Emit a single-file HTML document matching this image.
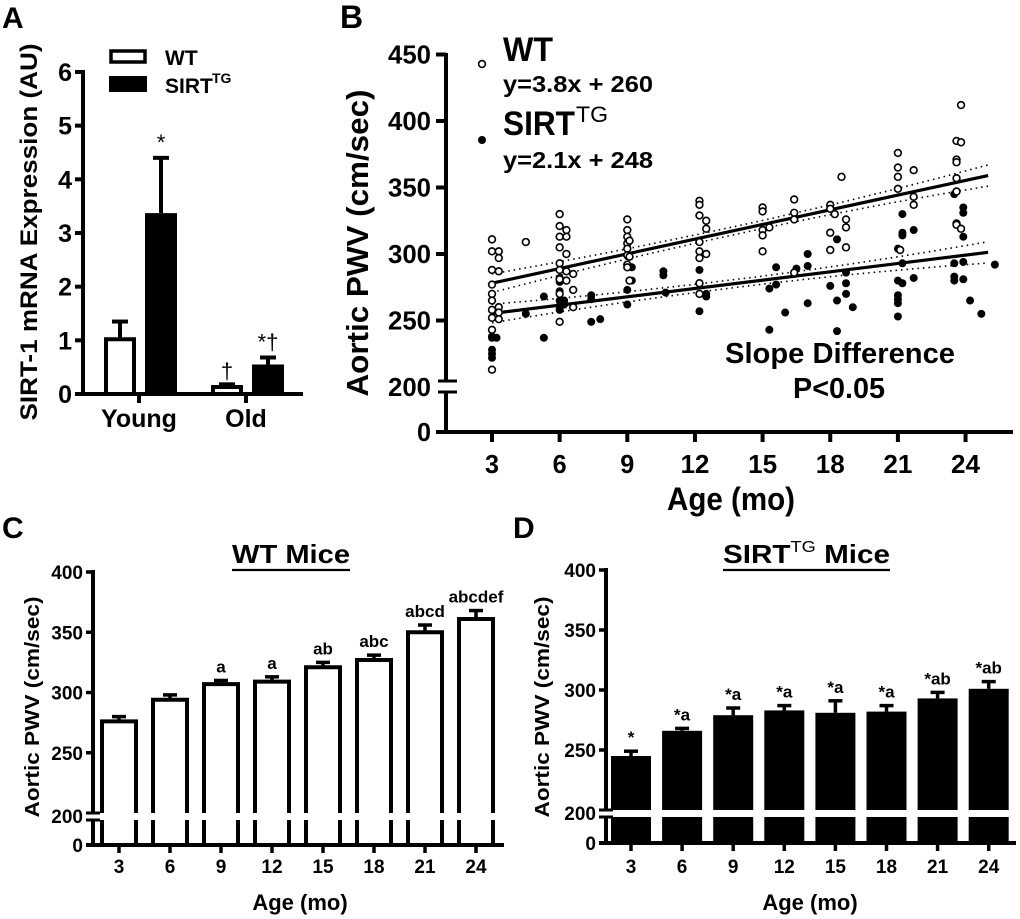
<!DOCTYPE html>
<html><head><meta charset="utf-8"><style>
html,body{margin:0;padding:0;background:#fff;}
svg{display:block;font-family:"Liberation Sans",Arial,sans-serif;font-weight:bold;}
</style></head><body>
<svg id="fig" width="1020" height="919" viewBox="0 0 1020 919" xmlns="http://www.w3.org/2000/svg">
<g id="pa"></g>
<g id="pb"></g>
<g id="pc"></g>
<g id="pd"></g>
</svg>
<script>
// ---------- Panel A data ----------
const aGroups = ['Young', 'Old'];
const aWT = [1.02, 0.13];
const aWTerr = [0.33, 0.05];
const aTG = [3.37, 0.55];
const aTGerr = [1.03, 0.13];
const aWTmarks = ['', '†'];
const aTGmarks = ['*', '*†'];
const aTicks = [0, 1, 2, 3, 4, 5, 6];

// ---------- Panel B data ----------
const bTicksY = [0, 200, 250, 300, 350, 400, 450];
const bTicksX = [3, 6, 9, 12, 15, 18, 21, 24];
const bWTage = [3,3,3,3,3,3,3,3,3,3, 3.3,3.3,3.3,3.3,3.3,3.3, 4.5, 6,6,6,6,6,6,6,6,6, 6.3,6.3,6.3,6.3,6.3, 6.6,6.6,6.6, 9,9,9,9,9,9,9,9, 9.1,9.1,9.1, 12.2,12.2,12.2,12.2,12.2,12.2,12.2,12.2, 12.5,12.5,12.5, 15,15,15,15,15, 15.3, 16.4,16.4,16.4,16.4, 18,18,18,18, 18.2, 18.5, 18.7,18.7,18.7, 21,21,21,21, 21.1, 21.7,21.7,21.7, 23.6,23.6,23.6,23.6,23.6,23.6,23.6, 23.8,23.8,23.8];
const bWTval = [311,302,288,277,270,265,258,252,243,213, 302,297,287,260,256,251, 309, 330,321,313,305,293,288,281,270,249, 318,313,300,287,280, 285,273,260, 326,318,313,308,304,299,292,290, 310,298,280, 340,337,329,309,302,297,278,270, 325,319,300, 335,332,318,314,302, 320, 341,331,326,286, 337,334,316,303, 330, 358, 326,320,305, 376,365,358,349, 303, 363,343,337, 371,369,385,357,347,323,322, 412,384,319];
const bTGage = [3,3,3,3,3, 3.2, 4.5, 5.3,5.3, 6,6,6,6,6,6, 6.2,6.2, 7.4,7.4,7.4, 7.8, 9,9,9, 9.2,9.2, 10.6,10.6, 10.7, 12.2,12.2, 12.5,12.5, 15.3,15.3, 15.6,15.6, 16, 16.5, 17,17,17, 18, 18.3,18.3,18.3, 18.7,18.7,18.7, 19, 21,21,21,21,21,21, 21.2,21.2,21.2,21.2,21.2, 21.7,21.7, 23.5,23.5,23.5,23.5, 23.9,23.9,23.9,23.9,23.9, 24.2, 24.7, 25.3];
const bTGval = [237,228,238,225,222, 237, 255, 268,237, 282,279,272,265,261,258, 265,262, 269,266,249, 251, 291,273,262, 280,290, 287,284, 271, 288,257, 268,270, 274,243, 290,277, 256, 289, 300,291,263, 276, 311,265,242, 286,278,270, 260, 304,280,269,266,263,253, 330,316,314,293,278, 318,282, 345,293,283,280, 335,331,294,281,313, 265, 255, 292];
const bWTfit = [3.68, 267];
const bTGfit = [2.09, 249];
const bWTband = [7, 3, 8];
const bTGband = [7, 3, 8];
const bFitRange = [3, 25];

// ---------- Panel C data ----------
const cAges = [3, 6, 9, 12, 15, 18, 21, 24];
const cWT = [276, 294, 307, 309, 321, 327, 350, 361];
const cWTerr = [4, 4, 3, 4, 4, 4, 6, 7];
const cLetters = ['', '', 'a', 'a', 'ab', 'abc', 'abcd', 'abcdef'];
const cdTicks = [0, 200, 250, 300, 350, 400];

// ---------- Panel D data ----------
const dTG = [245, 266, 279, 283, 281, 282, 293, 301];
const dTGerr = [4, 2, 6, 4, 10, 5, 5, 6];
const dLetters = ['*', '*a', '*a', '*a', '*a', '*a', '*ab', '*ab'];

const NS = 'http://www.w3.org/2000/svg';
function mk(parent, tag, attrs, text) {
  const el = document.createElementNS(NS, tag);
  for (const k in attrs) el.setAttribute(k, attrs[k]);
  if (text !== undefined) el.textContent = text;
  parent.appendChild(el);
  return el;
}

// ================= PANEL A =================
(function () {
  const g = document.getElementById('pa');
  const y = v => 394 - v * 53.67;
  const gx = [139, 246];
  let t = mk(g, 'text', {x: 2, y: 28, 'font-size': 30}, 'A');
  
  
  let ax = mk(g, 'line', {x1: 83, y1: 70, x2: 83, y2: 396, stroke: '#000', 'stroke-width': 4});
  
  
  let axx = mk(g, 'line', {x1: 81, y1: 394, x2: 303, y2: 394, stroke: '#000', 'stroke-width': 4});
  
  
  aTicks.forEach(v => {
    mk(g, 'line', {x1: 75, y1: y(v), x2: 83, y2: y(v), stroke: '#000', 'stroke-width': 4});
    const tl = mk(g, 'text', {x: 72, y: y(v) + 9, 'font-size': 25, 'text-anchor': 'end'}, String(v));
    
    
  });
  const yl = mk(g, 'text', {x: 0, y: 0, 'font-size': 24, 'text-anchor': 'middle', transform: 'translate(37,232) rotate(-90)', textLength: 377, lengthAdjust: 'spacingAndGlyphs'}, 'SIRT-1 mRNA Expression (AU)');
  
  
  aGroups.forEach((name, i) => {
    mk(g, 'line', {x1: gx[i], y1: 394, x2: gx[i], y2: 403, stroke: '#000', 'stroke-width': 4});
    const xl = mk(g, 'text', {x: gx[i], y: 427, 'font-size': 25, 'text-anchor': 'middle'}, name);
    
    
    const wx = gx[i] - 35, tx = gx[i] + 6, w = 32;
    mk(g, 'line', {x1: wx + w / 2, y1: y(aWT[i]), x2: wx + w / 2, y2: y(aWT[i] + aWTerr[i]), stroke: '#000', 'stroke-width': 4});
    mk(g, 'line', {x1: wx + w / 2 - 8, y1: y(aWT[i] + aWTerr[i]), x2: wx + w / 2 + 8, y2: y(aWT[i] + aWTerr[i]), stroke: '#000', 'stroke-width': 4});
    const b1 = mk(g, 'rect', {x: wx + 2, y: y(aWT[i]), width: w - 4, height: 394 - y(aWT[i]), fill: '#fff', stroke: '#000', 'stroke-width': 4});
    
    
    mk(g, 'line', {x1: tx + w / 2, y1: y(aTG[i]), x2: tx + w / 2, y2: y(aTG[i] + aTGerr[i]), stroke: '#000', 'stroke-width': 4});
    mk(g, 'line', {x1: tx + w / 2 - 8, y1: y(aTG[i] + aTGerr[i]), x2: tx + w / 2 + 8, y2: y(aTG[i] + aTGerr[i]), stroke: '#000', 'stroke-width': 4});
    const b2 = mk(g, 'rect', {x: tx, y: y(aTG[i]), width: w, height: 394 - y(aTG[i]), fill: '#000'});
    
    
    if (aWTmarks[i]) {
      const m = mk(g, 'text', {x: wx + w / 2, y: y(aWT[i] + aWTerr[i]) - 6, 'font-size': 22, 'text-anchor': 'middle', 'font-weight': 'normal'}, aWTmarks[i]);
      
      
    }
    if (aTGmarks[i]) {
      const m = mk(g, 'text', {x: tx + w / 2, y: y(aTG[i] + aTGerr[i]) - 8, 'font-size': 22, 'text-anchor': 'middle', 'font-weight': 'normal'}, aTGmarks[i]);
      
      
    }
  });
  const lg1 = mk(g, 'rect', {x: 111, y: 51, width: 34, height: 11, fill: '#fff', stroke: '#000', 'stroke-width': 3.5});
  
  
  const lg2 = mk(g, 'rect', {x: 109, y: 76, width: 38, height: 16, fill: '#000'});
  
  
  const lt1 = mk(g, 'text', {x: 165, y: 65, 'font-size': 21}, 'WT');
  
  
  const lt2 = mk(g, 'text', {x: 165, y: 93, 'font-size': 21}, 'SIRT');
  
  
  mk(g, 'text', {x: 212, y: 83, 'font-size': 14}, 'TG');
})();

// ================= PANEL B =================
(function () {
  const g = document.getElementById('pb');
  const X = a => 492 + (a - 3) * 22.55;
  const Y = v => v >= 200 ? 387 - (v - 200) * 66.5 / 50 : 432 - v * 45 / 200;
  let t = mk(g, 'text', {x: 340, y: 28, 'font-size': 32}, 'B');
  
  
  const ya1 = mk(g, 'line', {x1: 446, y1: 53, x2: 446, y2: 382, stroke: '#000', 'stroke-width': 4});
  
  
  mk(g, 'line', {x1: 446, y1: 392, x2: 446, y2: 434, stroke: '#000', 'stroke-width': 4});
  mk(g, 'line', {x1: 438, y1: 381, x2: 457, y2: 381, stroke: '#000', 'stroke-width': 3});
  mk(g, 'line', {x1: 438, y1: 392, x2: 457, y2: 392, stroke: '#000', 'stroke-width': 3});
  const xa = mk(g, 'line', {x1: 444, y1: 432, x2: 1013, y2: 432, stroke: '#000', 'stroke-width': 4});
  
  
  bTicksY.forEach(v => {
    if (v !== 200) mk(g, 'line', {x1: 436, y1: Y(v), x2: 446, y2: Y(v), stroke: '#000', 'stroke-width': 4});
    const tl = mk(g, 'text', {x: 431, y: Y(v) + 9, 'font-size': 26, 'text-anchor': 'end', textLength: v === 0 ? 14 : 43, lengthAdjust: 'spacingAndGlyphs'}, String(v));
    
    
  });
  bTicksX.forEach(a => {
    mk(g, 'line', {x1: X(a), y1: 432, x2: X(a), y2: 442, stroke: '#000', 'stroke-width': 4});
    const tl = mk(g, 'text', {x: X(a), y: 473, 'font-size': 26, 'text-anchor': 'middle', textLength: a < 10 ? 14 : 29, lengthAdjust: 'spacingAndGlyphs'}, String(a));
    
    
  });
  const xt = mk(g, 'text', {x: 731, y: 510, 'font-size': 32, 'text-anchor': 'middle', textLength: 128, lengthAdjust: 'spacingAndGlyphs'}, 'Age (mo)');
  
  
  const yt = mk(g, 'text', {x: 0, y: 0, 'font-size': 31, 'text-anchor': 'middle', transform: 'translate(368,243) rotate(-90)', textLength: 307, lengthAdjust: 'spacingAndGlyphs'}, 'Aortic PWV (cm/sec)');
  
  
  function fit(par, band, name) {
    const a0 = bFitRange[0], a1 = bFitRange[1], am = (a0 + a1) / 2;
    const f = a => par[0] * a + par[1];
    const hw = a => { const u = (a - am) / (a1 - am); return band[1] + (u < 0 ? band[0] - band[1] : band[2] - band[1]) * u * u; };
    let up = '', lo = '';
    for (let k = 0; k <= 30; k++) {
      const a = a0 + (a1 - a0) * k / 30;
      up += (k ? 'L' : 'M') + X(a).toFixed(1) + ' ' + Y(f(a) + hw(a)).toFixed(1);
      lo += (k ? 'L' : 'M') + X(a).toFixed(1) + ' ' + Y(f(a) - hw(a)).toFixed(1);
    }
    const p1 = mk(g, 'path', {d: up, fill: 'none', stroke: '#000', 'stroke-width': 1.6, 'stroke-dasharray': '1.5 4'});
    
    
    const p2 = mk(g, 'path', {d: lo, fill: 'none', stroke: '#000', 'stroke-width': 1.6, 'stroke-dasharray': '1.5 4'});
    
    
    const l = mk(g, 'line', {x1: X(a0), y1: Y(f(a0)), x2: X(a1), y2: Y(f(a1)), stroke: '#000', 'stroke-width': 3.2});
    
    
  }
  fit(bWTfit, bWTband, 'wt');
  fit(bTGfit, bTGband, 'sirt');
  bTGage.forEach((a, i) => {
    const c = mk(g, 'circle', {cx: X(a), cy: Y(bTGval[i]), r: 4, fill: '#000'});
    
    
  });
  bWTage.forEach((a, i) => {
    const c = mk(g, 'circle', {cx: X(a), cy: Y(bWTval[i]), r: 3.4, fill: '#fff', stroke: '#000', 'stroke-width': 1.6});
    
    
  });
  const lc1 = mk(g, 'circle', {cx: 482, cy: 64, r: 3.4, fill: '#fff', stroke: '#000', 'stroke-width': 1.6});
  
  
  const lc2 = mk(g, 'circle', {cx: 482, cy: 140, r: 4, fill: '#000'});
  
  
  const l1 = mk(g, 'text', {x: 503, y: 61, 'font-size': 34, textLength: 50, lengthAdjust: 'spacingAndGlyphs'}, 'WT');
  
  
  const e1 = mk(g, 'text', {x: 503, y: 92, 'font-size': 23, textLength: 150, lengthAdjust: 'spacingAndGlyphs'}, 'y=3.8x + 260');
  
  
  const l2 = mk(g, 'text', {x: 503, y: 135, 'font-size': 34, textLength: 72, lengthAdjust: 'spacingAndGlyphs'}, 'SIRT');
  
  
  mk(g, 'text', {x: 576, y: 122, 'font-size': 22, 'font-weight': 'normal', textLength: 32, lengthAdjust: 'spacingAndGlyphs'}, 'TG');
  const e2 = mk(g, 'text', {x: 503, y: 168, 'font-size': 23, textLength: 150, lengthAdjust: 'spacingAndGlyphs'}, 'y=2.1x + 248');
  
  
  const s1 = mk(g, 'text', {x: 840, y: 363, 'font-size': 29, 'text-anchor': 'middle', textLength: 230, lengthAdjust: 'spacingAndGlyphs'}, 'Slope Difference');
  
  
  const s2 = mk(g, 'text', {x: 839, y: 398, 'font-size': 29, 'text-anchor': 'middle', textLength: 92, lengthAdjust: 'spacingAndGlyphs'}, 'P<0.05');
  
  
})();

// ================= PANELS C & D =================
function barPanel(gid, o, vals, errs, letters, filled) {
  const g = document.getElementById(gid);
  const Y = v => v >= 200 ? o.y200 - (v - 200) * (o.y200 - o.y400) / 200 : o.y0 - v * (o.y0 - o.y200b) / 200;
  const X = a => o.x3 + (a - 3) * o.dx;
  let t = mk(g, 'text', {x: o.lx, y: 538, 'font-size': 30}, o.letter);
  
  
  const ti = mk(g, 'text', {x: o.tx, y: 563, 'font-size': 26, textLength: o.ux2 - o.tx, lengthAdjust: 'spacingAndGlyphs'});
  
  
  if (o.sup) {
    mk(ti, 'tspan', {}, 'SIRT');
    mk(ti, 'tspan', {dy: -11, 'font-size': 16, 'font-weight': 'normal'}, 'TG');
    mk(ti, 'tspan', {dy: 11}, ' Mice');
  } else {
    ti.textContent = o.title;
  }
  mk(g, 'line', {x1: o.ux1, y1: 570, x2: o.ux2, y2: 570, stroke: '#000', 'stroke-width': 2.2});
  const ya = mk(g, 'line', {x1: o.ax, y1: o.y400 - 2, x2: o.ax, y2: o.y200, stroke: '#000', 'stroke-width': 4});
  
  
  mk(g, 'line', {x1: o.ax, y1: o.y200b, x2: o.ax, y2: o.y0, stroke: '#000', 'stroke-width': 4});
  mk(g, 'line', {x1: o.ax - 7, y1: o.y200, x2: o.ax + 7, y2: o.y200, stroke: '#000', 'stroke-width': 3});
  mk(g, 'line', {x1: o.ax - 7, y1: o.y200b, x2: o.ax + 7, y2: o.y200b, stroke: '#000', 'stroke-width': 3});
  const xa = mk(g, 'line', {x1: o.ax - 7, y1: o.y0, x2: o.xend, y2: o.y0, stroke: '#000', 'stroke-width': 4});
  
  
  cdTicks.forEach(v => {
    if (v !== 200 && v !== 0) mk(g, 'line', {x1: o.ax - 7, y1: Y(v), x2: o.ax, y2: Y(v), stroke: '#000', 'stroke-width': 3.5});
    const tl = mk(g, 'text', {x: o.ax - 10, y: (v === 200 ? o.y200 + 3 : Y(v)) + 7, 'font-size': 19, 'text-anchor': 'end'}, String(v));
    
    
  });
  cAges.forEach((a, i) => {
    const cx = X(a), v = vals[i], top = Y(v), et = Y(v + errs[i]);
    mk(g, 'line', {x1: cx, y1: o.y0, x2: cx, y2: o.y0 + 8, stroke: '#000', 'stroke-width': 3.5});
    const tl = mk(g, 'text', {x: cx, y: 873, 'font-size': 19, 'text-anchor': 'middle'}, String(a));
    
    
    mk(g, 'line', {x1: cx, y1: top, x2: cx, y2: et, stroke: '#000', 'stroke-width': 3.5});
    mk(g, 'line', {x1: cx - 7, y1: et, x2: cx + 7, y2: et, stroke: '#000', 'stroke-width': 3.5});
    const hw = o.bw / 2;
    let bar;
    if (filled) {
      bar = mk(g, 'rect', {x: cx - hw, y: top, width: o.bw, height: o.y200 - top, fill: '#000'});
      mk(g, 'rect', {x: cx - hw, y: o.y200b, width: o.bw, height: o.y0 - o.y200b, fill: '#000'});
    } else {
      const l = cx - hw + 2, r = cx + hw - 2;
      bar = mk(g, 'path', {d: `M${l} ${o.y200}V${top}H${r}V${o.y200}M${l} ${o.y200b}V${o.y0}M${r} ${o.y200b}V${o.y0}`, fill: '#fff', stroke: '#000', 'stroke-width': 4});
    }
    
    
    if (letters[i]) {
      const lt = mk(g, 'text', {x: cx, y: et - 8, 'font-size': 17, 'text-anchor': 'middle'}, letters[i]);
      
      
    }
  });
  const xt = mk(g, 'text', {x: o.xtc, y: 910, 'font-size': 22, 'text-anchor': 'middle'}, 'Age (mo)');
  
  
  const yt = mk(g, 'text', {x: 0, y: 0, 'font-size': 20, 'text-anchor': 'middle', transform: `translate(${o.ylx},707) rotate(-90)`, textLength: 221, lengthAdjust: 'spacingAndGlyphs'}, 'Aortic PWV (cm/sec)');
  
  
}
barPanel('pc', {letter: 'C', lx: 2, title: 'WT Mice', tx: 232, ux1: 232, ux2: 350, ax: 93, y400: 572, y200: 813, y200b: 820, y0: 845, x3: 119, dx: 51 / 3, bw: 38, xend: 504, xtc: 300, ylx: 39}, cWT, cWTerr, cLetters, false);
barPanel('pd', {letter: 'D', lx: 513, title: 'SIRT Mice', tx: 723, sup: true, ux1: 723, ux2: 890, ax: 606, y400: 570, y200: 810, y200b: 817, y0: 843, x3: 631, dx: 51.1 / 3, bw: 40, xend: 1016, xtc: 810, ylx: 549}, dTG, dTGerr, dLetters, true);
</script>
</body></html>
